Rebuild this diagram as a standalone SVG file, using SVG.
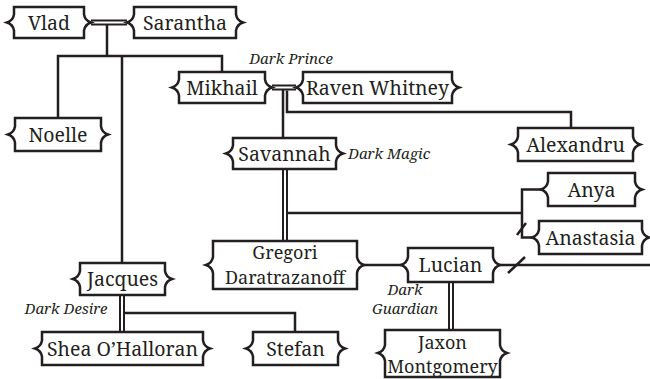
<svg xmlns="http://www.w3.org/2000/svg" width="650" height="379" viewBox="0 0 650 379">
<style>
.box{fill:#fff;stroke:#231f20;stroke-width:2.5;stroke-linejoin:miter}
.ln{fill:none;stroke:#231f20;stroke-width:2.5}
.dbo{fill:none;stroke:#231f20;stroke-width:6}
.dbi{fill:none;stroke:#fff;stroke-width:2}
.t{font-family:'Noto Serif','DejaVu Serif',serif;font-size:19.5px;fill:#231f20;text-anchor:middle}
.t2{font-family:'Noto Serif','DejaVu Serif',serif;font-size:18px;fill:#231f20;text-anchor:middle}
.it{font-family:'Noto Serif','DejaVu Serif',serif;font-size:15px;font-style:italic;fill:#231f20}
</style>
<rect width="650" height="379" fill="#fff"/>
<g id="connectors">
<path class="ln" d="M107,25 V56"/>
<path class="ln" d="M58,118 V56 H222 V72"/>
<path class="ln" d="M122,56 V263"/>
<path class="ln" d="M283,90 V138"/>
<path class="ln" d="M287,90.5 V112 H571 V128"/>
<path class="ln" d="M288,213 H522"/>
<path class="ln" d="M541,189.5 H522 V237.5 H532"/>
<path class="ln" d="M517,235 L526,223"/>
<path class="ln" d="M364,265 H401"/>
<path class="ln" d="M500,265 H650"/>
<path class="ln" d="M508,273 L525,257"/>
<path class="ln" d="M125,313 H295 V332"/>
<path class="dbo" d="M91,22.5 H127"/><path class="dbi" d="M91,22.5 H127"/>
<path class="dbo" d="M272,87.5 H296"/><path class="dbi" d="M272,87.5 H296"/>
<path class="dbo" d="M285,169 V241"/><path class="dbi" d="M285,169 V241"/>
<path class="dbo" d="M451,282 V330"/><path class="dbi" d="M451,282 V330"/>
<path class="dbo" d="M122,295 V332"/><path class="dbi" d="M122,295 V332"/>
</g>
<g id="vlad"><path class="box" d="M14,7 H84 V14.5 Q85,20.5 91,22.5 Q85,24.5 84,30.5 V38 H14 V30.5 Q13,24.5 7,22.5 Q13,20.5 14,14.5 Z"/><text class="t" x="49" y="29.5">Vlad</text></g>
<g id="sarantha"><path class="box" d="M134,7 H236 V14.5 Q237,20.5 243,22.5 Q237,24.5 236,30.5 V38 H134 V30.5 Q133,24.5 127,22.5 Q133,20.5 134,14.5 Z"/><text class="t" x="185" y="29.5">Sarantha</text></g>
<g id="noelle"><path class="box" d="M15,118 H101 V126.5 Q102,132.5 108,134.5 Q102,136.5 101,142.5 V151 H15 V142.5 Q14,136.5 8,134.5 Q14,132.5 15,126.5 Z"/><text class="t" x="58" y="141.5">Noelle</text></g>
<g id="mikhail"><path class="box" d="M179,72 H265 V79.5 Q266,85.5 272,87.5 Q266,89.5 265,95.5 V103 H179 V95.5 Q178,89.5 172,87.5 Q178,85.5 179,79.5 Z"/><text class="t" x="222" y="94.5">Mikhail</text></g>
<g id="raven"><path class="box" d="M303,72 H452 V79.5 Q453,85.5 459,87.5 Q453,89.5 452,95.5 V103 H303 V95.5 Q302,89.5 296,87.5 Q302,85.5 303,79.5 Z"/><text class="t" x="377.5" y="94.5">Raven Whitney</text></g>
<g id="alexandru"><path class="box" d="M518,128 H633 V136.5 Q634,142.5 640,144.5 Q634,146.5 633,152.5 V161 H518 V152.5 Q517,146.5 511,144.5 Q517,142.5 518,136.5 Z"/><text class="t" x="575.5" y="151.5">Alexandru</text></g>
<g id="savannah"><path class="box" d="M233,138 H336 V145.5 Q337,151.5 343,153.5 Q337,155.5 336,161.5 V169 H233 V161.5 Q232,155.5 226,153.5 Q232,151.5 233,145.5 Z"/><text class="t" x="284.5" y="160.5">Savannah</text></g>
<g id="anya"><path class="box" d="M548,173 H635 V181.5 Q636,187.5 642,189.5 Q636,191.5 635,197.5 V206 H548 V197.5 Q547,191.5 541,189.5 Q547,187.5 548,181.5 Z"/><text class="t" x="591.5" y="196.5">Anya</text></g>
<g id="anastasia"><path class="box" d="M539,221 H642 V229.5 Q643,235.5 649,237.5 Q643,239.5 642,245.5 V254 H539 V245.5 Q538,239.5 532,237.5 Q538,235.5 539,229.5 Z"/><text class="t" x="590.5" y="244.5">Anastasia</text></g>
<g id="gregori"><path class="box" d="M213,241 H357 V257 Q358,263 364,265 Q358,267 357,273 V289 H213 V273 Q212,267 206,265 Q212,263 213,257 Z"/><text class="t2"><tspan x="285" y="259">Gregori</tspan><tspan x="285" y="283.5">Daratrazanoff</tspan></text></g>
<g id="lucian"><path class="box" d="M408,248 H493 V257 Q494,263 500,265 Q494,267 493,273 V282 H408 V273 Q407,267 401,265 Q407,263 408,257 Z"/><text class="t" x="450.5" y="271.5">Lucian</text></g>
<g id="jaxon"><path class="box" d="M385,330 H500 V345 Q501,351 507,353 Q501,355 500,361 V377 H385 V361 Q384,355 378,353 Q384,351 385,345 Z"/><text class="t2"><tspan x="442.5" y="348.5">Jaxon</tspan><tspan x="442.5" y="373">Montgomery</tspan></text></g>
<g id="jacques"><path class="box" d="M80,263 H165 V271 Q166,277 172,279 Q166,281 165,287 V295 H80 V287 Q79,281 73,279 Q79,277 80,271 Z"/><text class="t" x="122.5" y="285.5">Jacques</text></g>
<g id="shea"><path class="box" d="M42,332 H203 V340.5 Q204,346.5 210,348.5 Q204,350.5 203,356.5 V365 H42 V356.5 Q41,350.5 35,348.5 Q41,346.5 42,340.5 Z"/><text class="t" x="122.5" y="355.5">Shea O’Halloran</text></g>
<g id="stefan"><path class="box" d="M253,332 H338 V340.5 Q339,346.5 345,348.5 Q339,350.5 338,356.5 V365 H253 V356.5 Q252,350.5 246,348.5 Q252,346.5 253,340.5 Z"/><text class="t" x="295.5" y="355.5">Stefan</text></g>
<g id="labels">
<text class="it" x="291" y="64" text-anchor="middle">Dark Prince</text>
<text class="it" x="348" y="159">Dark Magic</text>
<text class="it" x="66" y="314" text-anchor="middle">Dark Desire</text>
<text class="it" font-size="14" text-anchor="middle"><tspan x="405" y="294.5">Dark</tspan><tspan x="405" y="313.8">Guardian</tspan></text>
</g>
</svg>
